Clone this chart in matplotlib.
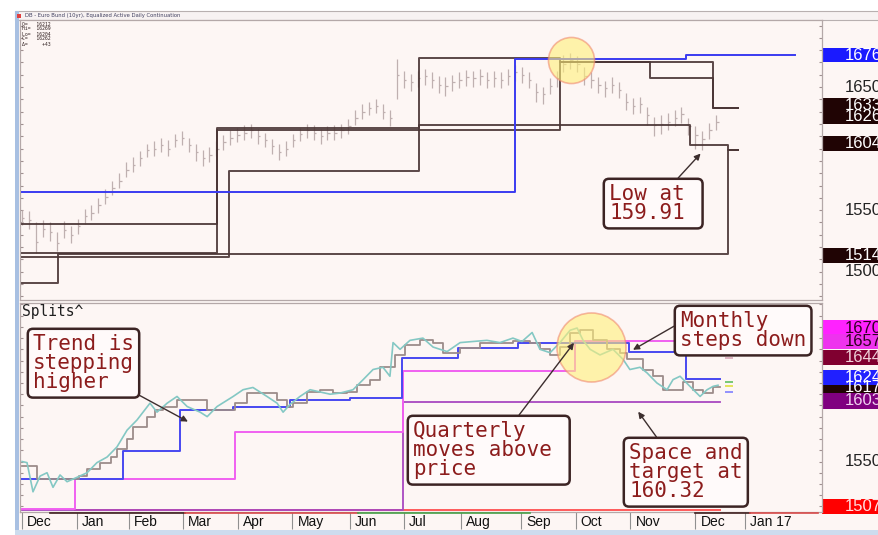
import numpy as np
import matplotlib.pyplot as plt
from matplotlib.patches import Rectangle
from matplotlib.transforms import ScaledTranslation, blended_transform_factory

# ---- data (x in trading days from 1 Dec 2015, prices in ticks e.g. 1650 = 165.00) ----
month_days = [0, 21, 41, 62, 83, 104, 126, 147, 169, 192, 213, 234, 259, 278]
month_names = ['Dec', 'Jan', 'Feb', 'Mar', 'Apr', 'May', 'Jun', 'Jul', 'Aug',
               'Sep', 'Oct', 'Nov', 'Dec', 'Jan 17']

bar_close = [1544, 1542, 1524, 1535, 1532, 1523, 1534, 1530, 1537, 1545,
             1548, 1554, 1561, 1568, 1574, 1583, 1587, 1592, 1599, 1600,
             1603, 1600, 1607, 1609, 1603, 1597, 1592, 1595, 1600, 1605,
             1609, 1611, 1613, 1615, 1610, 1607, 1602, 1597, 1600, 1607,
             1612, 1615, 1613, 1610, 1613, 1613, 1615, 1618, 1625, 1630,
             1633, 1635, 1630, 1625, 1660, 1656, 1654, 1657, 1659, 1656,
             1652, 1651, 1654, 1656, 1658, 1657, 1659, 1656, 1657, 1656,
             1659, 1662, 1660, 1656, 1646, 1644, 1651, 1657, 1669, 1672,
             1669, 1659, 1656, 1652, 1649, 1652, 1648, 1638, 1635, 1636,
             1627, 1619, 1620, 1622, 1625, 1628, 1618, 1611, 1608, 1615,
             1622]
bar_high = [1550, 1549, 1540, 1542, 1540, 1532, 1541, 1537, 1543, 1551,
            1554, 1560, 1567, 1574, 1580, 1589, 1593, 1598, 1604, 1606,
            1609, 1607, 1612, 1614, 1609, 1604, 1599, 1601, 1606, 1611,
            1615, 1617, 1619, 1620, 1616, 1613, 1608, 1604, 1606, 1612,
            1617, 1620, 1619, 1616, 1618, 1619, 1620, 1624, 1631, 1636,
            1638, 1640, 1636, 1631, 1673, 1663, 1661, 1663, 1665, 1662,
            1659, 1658, 1660, 1662, 1664, 1663, 1665, 1662, 1663, 1662,
            1665, 1668, 1666, 1662, 1653, 1650, 1657, 1663, 1676, 1678,
            1675, 1666, 1662, 1658, 1655, 1658, 1654, 1645, 1641, 1642,
            1634, 1626, 1627, 1629, 1631, 1634, 1625, 1618, 1614, 1621,
            1627]
bar_low = [1538, 1535, 1515, 1528, 1525, 1517, 1527, 1523, 1531, 1539,
           1542, 1548, 1555, 1562, 1568, 1577, 1581, 1586, 1593, 1594,
           1597, 1594, 1601, 1603, 1597, 1590, 1586, 1589, 1594, 1599,
           1603, 1605, 1607, 1609, 1604, 1601, 1596, 1591, 1594, 1601,
           1606, 1609, 1607, 1604, 1607, 1607, 1609, 1612, 1619, 1624,
           1627, 1629, 1624, 1618, 1640, 1649, 1647, 1650, 1652, 1649,
           1645, 1643, 1647, 1649, 1651, 1650, 1652, 1649, 1650, 1649,
           1652, 1655, 1653, 1649, 1638, 1636, 1644, 1650, 1662, 1665,
           1662, 1652, 1649, 1645, 1642, 1645, 1641, 1631, 1628, 1629,
           1619, 1610, 1612, 1615, 1618, 1621, 1611, 1600, 1599, 1608,
           1615]
bar_step = 2.67

# period high / low steps in the price panel
k1_x = [0, 14, 271.5, 275.5]
k1_y = [1491, 1514, 1599, 1599]
k2_x = [0, 75, 207, 265.8, 275.5]
k2_y = [1515, 1615, 1670, 1633, 1633]
k3_x = [0, 75, 152.5, 207, 241.5, 265.8, 275.5]
k3_y = [1539, 1617, 1674, 1670, 1657, 1633, 1633]
k4_x = [0, 79.5, 152.5, 257, 271.5, 275.5]
k4_y = [1512, 1582, 1619, 1603, 1599, 1599]
top_blue_x = [0, 189.6, 255.4, 297.3]
top_blue_y = [1565, 1673, 1676, 1676]

# lower panel (Splits)
teal_x = [0, 1.9, 4.2, 6.9, 9.6, 11.9, 14.6, 17.3, 21.2, 25, 28.8, 32.7, 36.5,
          40.4, 44.2, 49.2, 51.9, 55.8, 59.6, 63.5, 68.5, 71.2, 75, 81.2, 85,
          88.8, 94.2, 98.1, 100.4, 103.1, 106.9, 110.8, 114.6, 118.5, 122.3,
          127.3, 131.2, 135, 138.8, 141.5, 142.7, 145.4, 149.2, 154.2, 158.1,
          163.5, 168.5, 173.5, 178.8, 183.8, 188.8, 192.3, 196.2, 199.2,
          203.1, 206.9, 210.8, 213.5, 215.8, 218.5, 222.3, 227.3, 231.2,
          233.8, 237.7, 240.4, 244.2, 248.1, 250.4, 253.1, 256.9, 260.8,
          263.5, 265.8, 267.7]
teal_y = [1550, 1549, 1523, 1537, 1540, 1527, 1538, 1532, 1536, 1540, 1549,
          1554, 1563, 1578, 1587, 1602, 1594, 1602, 1608, 1599, 1594, 1590,
          1599, 1608, 1614, 1616, 1608, 1602, 1594, 1601, 1608, 1614, 1612,
          1610, 1611, 1614, 1623, 1632, 1634, 1626, 1656, 1650, 1658, 1660,
          1652, 1648, 1656, 1657, 1658, 1656, 1660, 1657, 1665, 1650, 1647,
          1656, 1667, 1669, 1658, 1650, 1645, 1650, 1641, 1632, 1634, 1629,
          1620, 1614, 1623, 1626, 1617, 1608, 1614, 1617, 1618]
gray_x = [0, 5.8, 21.9, 25, 30, 34.2, 36.5, 40.4, 42.7, 48.1, 51.2, 54.2,
          59.6, 71.2, 81.9, 86.5, 98.1, 101.9, 104.2, 109.6, 114.6, 119.6,
          125, 128.8, 133.8, 137.7, 143.5, 147.3, 153.1, 158.1, 161.9, 168.5,
          176.2, 188.8, 195.4, 199.2, 203.1, 206.9, 210.8, 214.6, 219.6, 225,
          230, 232.7, 238.8, 242.7, 246.5, 254.2, 258.1, 261.9, 265.8, 268.5]
gray_y = [1546, 1534, 1537, 1543, 1549, 1554, 1561, 1570, 1581, 1590, 1596,
          1599, 1605, 1596, 1602, 1611, 1605, 1599, 1602, 1612, 1614, 1611,
          1612, 1618, 1623, 1634, 1645, 1654, 1658, 1656, 1647, 1651, 1656,
          1657, 1656, 1650, 1645, 1652, 1665, 1667, 1658, 1650, 1647, 1641,
          1632, 1626, 1614, 1621, 1614, 1611, 1616, 1616]
month_blue_x = [0, 39, 60.8, 81.2, 103, 126, 146.2, 167.7, 190.6, 233.5,
                255.4, 268.5]
month_blue_y = [1534, 1559, 1596, 1599, 1605, 1607, 1642, 1651, 1656, 1648,
                1624, 1624]
quarter_pink_x = [0, 20.4, 82, 146.5, 212.7, 268.5]
quarter_pink_y = [1508, 1534, 1576, 1631, 1657, 1657]
purple_x = [0, 146.5, 268.5]
purple_y = [1507, 1603, 1603]
red_x = [20.4, 268.5]
red_y = [1507, 1507]
dash_y = [1667, 1642, 1621, 1617, 1612]
dash_c = ['#ff80ff', '#d8a8b8', '#60c060', '#e0e040', '#8080ff']

top_labels = [(1676, '1676', '#1a1aff', 'white'), (1650, '1650', None, '#222222'),
              (1626, '1626', '#200404', 'white'), (1635, '1633', '#200404', 'white'),
              (1604, '1604', '#200404', 'white'), (1550, '1550', None, '#222222'),
              (1513, '1514', '#200404', 'white'), (1500, '1500', None, '#222222')]
low_labels = [(1669, '1670', '#ff22ff', '#300020'), (1657, '1657', '#ee33ee', '#300020'),
              (1643, '1644', '#800030', '#f0d0d8'), (1616, '1617', '#200404', 'white'),
              (1625, '1624', '#2020ff', 'white'), (1604, '1603', '#800080', '#f0d0f0'),
              (1550, '1550', None, '#222222'), (1510, '1507', '#ff0000', '#ffe0e0')]

W, H = 879, 535
BG = '#fdf6f4'
fig = plt.figure(figsize=(W / 100, H / 100), dpi=100, facecolor='white')


def fx(px):
    return px / W


def fy(py):
    return 1 - py / H


# window frame
fig.patches.append(Rectangle((fx(15), fy(530)), 1 - fx(15), fy(11) - fy(530),
                             transform=fig.transFigure, facecolor=BG,
                             edgecolor='none', zorder=-2))
fig.patches.append(Rectangle((fx(15), fy(20)), 1 - fx(15), fy(11) - fy(20),
                             transform=fig.transFigure, facecolor='#f7f2f2',
                             edgecolor='#b8b0b0', lw=0.8, zorder=-1))
fig.patches.append(Rectangle((fx(15), fy(530)), fx(4), fy(11) - fy(530),
                             transform=fig.transFigure, facecolor='#a8c0e2',
                             edgecolor='none', zorder=-1))
fig.patches.append(Rectangle((fx(15), 0), 1 - fx(15), fy(530),
                             transform=fig.transFigure, facecolor='#cddcee',
                             edgecolor='none', zorder=-1))
fig.patches.append(Rectangle((fx(17), fy(18)), fx(4), fy(14) - fy(18),
                             transform=fig.transFigure, facecolor='#e04040',
                             edgecolor='none'))
fig.text(fx(25), fy(16), 'DB - Euro Bund (10yr), Equalized Active Daily Continuation',
         fontsize=3.8, color='#404060', va='center')
for i, s in enumerate(['O=   16212', 'Hi=  16269', 'Lo=  16204', 'C=   16262', 'Δ=     +43']):
    fig.text(fx(22), fy(24 + 5 * i), s, fontsize=3.4, color='#302020',
             va='center', family='DejaVu Sans Mono')

ax1 = fig.add_axes([fx(20), fy(300), fx(822) - fx(20), fy(20) - fy(300)])
ax2 = fig.add_axes([fx(20), fy(512), fx(822) - fx(20), fy(303) - fy(512)])
for ax in (ax1, ax2):
    ax.set_facecolor(BG)
    ax.set_xlim(-0.8, 307.7)
    for sp in ax.spines.values():
        sp.set_color('#b4a8a8')
        sp.set_linewidth(0.9)
    ax.tick_params(axis='y', which='both', left=True, right=True, labelleft=False,
                   direction='in', length=2.5, color='#a09090')
ax1.set_ylim(1477, 1704.5)
ax2.set_ylim(1505, 1691.3)
ax1.set_xticks([])
ax1.set_yticks(np.arange(1480, 1705, 10))
ax2.set_yticks(np.arange(1510, 1691, 10))

# price bars
bar_x = np.arange(len(bar_close)) * bar_step
ax1.vlines(bar_x, bar_low, bar_high, color='#bfb0b0', lw=0.9, zorder=2)
ax1.hlines(bar_close, bar_x, bar_x + 0.9, color='#bfb0b0', lw=0.9, zorder=2)

blk = '#4a3535'
for xs, ys in ((k1_x, k1_y), (k2_x, k2_y), (k3_x, k3_y), (k4_x, k4_y)):
    ax1.plot(xs, ys, drawstyle='steps-post', color=blk, lw=1.4, alpha=0.9, zorder=3)
ax1.plot(top_blue_x, top_blue_y, drawstyle='steps-post', color='#3a3af0', lw=1.4, zorder=4)

ax2.plot(red_x, red_y, color='#ff5a5a', lw=1.4, zorder=2)
ax2.plot(purple_x, purple_y, drawstyle='steps-post', color='#a848c0', lw=1.3, zorder=2)
ax2.plot(quarter_pink_x, quarter_pink_y, drawstyle='steps-post', color='#f060f0', lw=1.4, zorder=3)
ax2.plot(month_blue_x, month_blue_y, drawstyle='steps-post', color='#4848f0', lw=1.4, zorder=4)
ax2.plot(gray_x, gray_y, drawstyle='steps-post', color='#9c8c8a', lw=1.3, zorder=5)
ax2.plot(teal_x, teal_y, color='#84c8c4', lw=1.2, zorder=6)
ax2.hlines(dash_y, 270.5, 273.5, colors=dash_c, lw=1.2)

# highlight circles
ax1.scatter([211], [1672], s=1100, facecolor='#fff07a', edgecolor='#f08a70',
            lw=1.2, alpha=0.6, zorder=6)
ax2.scatter([218.8], [1652], s=2470, facecolor='#fff07a', edgecolor='#f08a70',
            lw=1.2, alpha=0.6, zorder=7)

# date axis
ax2.set_xticks(month_days)
ax2.set_xticklabels(month_names)
ax2.tick_params(axis='x', direction='out', length=12, pad=-10, color='#909090',
                labelsize=10, labelcolor='#111111')
for lab in ax2.get_xticklabels():
    lab.set_ha('left')
    lab.set_family('Liberation Sans')
    lab.set_transform(lab.get_transform() + ScaledTranslation(0.05, 0, fig.dpi_scale_trans))
for x0, x1, c in ((50, 185, '#402020'), (185, 358, '#d84a4a'), (358, 530, '#48a048'),
                  (695, 750, '#402020'), (750, 818, '#d84a4a')):
    fig.add_artist(plt.Line2D([fx(x0), fx(x1)], [fy(513), fy(513)], color=c, lw=1.2))


def right_labels(ax, labels, half):
    trans = blended_transform_factory(fig.transFigure, ax.transData)
    for val, txt, face, tcol in labels:
        if face is not None:
            ax.add_patch(Rectangle((1.0, val - half), 0.1, 2 * half, facecolor=face,
                                   edgecolor='none', clip_on=False,
                                   transform=ax.get_yaxis_transform()))
        ax.text(fx(845), val, txt, color=tcol, fontsize=12, va='center', ha='left',
                family='Liberation Sans', clip_on=False, transform=trans)


right_labels(ax1, top_labels, 6.0)
right_labels(ax2, low_labels, 6.8)

fig.text(fx(22), fy(304), 'Splits^', fontsize=10.5, family='DejaVu Sans Mono',
         color='#202020', va='top')

# annotations
tcol = '#8c1c1c'
box = dict(boxstyle='round,pad=0.25,rounding_size=0.25', facecolor='#fffafa',
           edgecolor='#3c2424', lw=1.8)


def note(ax, text, xy, txy, rel):
    ax.annotate(text, xy=xy, xytext=(txy[0], H - txy[1]), textcoords='figure pixels',
                ha='left', va='top', fontsize=15, family='DejaVu Sans Mono',
                color=tcol, linespacing=0.95, bbox=box, zorder=10,
                arrowprops=dict(arrowstyle='-|>', color='#3c2e2e', lw=1.0,
                                mutation_scale=9, shrinkA=0, shrinkB=0, relpos=rel))


note(ax2, 'Trend is\nstepping\nhigher', (63.8, 1585.6), (33, 334), (1, 0))
note(ax2, 'Monthly\nsteps down', (235, 1649.6), (680, 311), (0, 0.7))
note(ax2, 'Quarterly\nmoves above \nprice', (212.3, 1655.8), (413, 421), (0.67, 1))
note(ax2, 'Space and\ntarget at\n160.32', (237, 1594.4), (629, 443), (0.28, 1))
note(ax1, 'Low at \n159.91', (261, 1596), (609, 184), (0.72, 1))

fig.savefig('out.png', dpi=100, facecolor='white')
